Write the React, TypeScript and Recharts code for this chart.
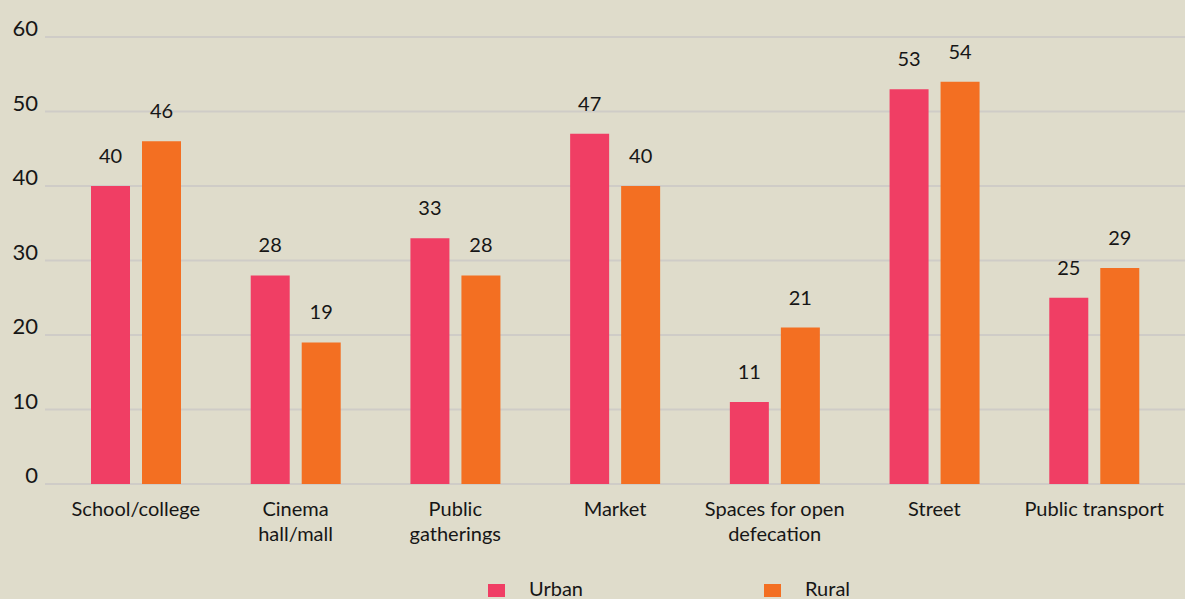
import { BarChart, Bar, XAxis, YAxis, CartesianGrid, Legend, LabelList } from "recharts";

const categories = [
  "School/college",
  "Cinema\nhall/mall",
  "Public\ngatherings",
  "Market",
  "Spaces for open\ndefecation",
  "Street",
  "Public transport",
];
const urban = [40, 28, 33, 47, 11, 53, 25];
const rural = [46, 19, 28, 40, 21, 54, 29];
const yTicks = [0, 10, 20, 30, 40, 50, 60];

const PINK = "#f03e64";
const ORANGE = "#f36f22";
const BG = "#dfdccb";
const INK = "#161616";
const FONT = "Lato, 'Open Sans', sans-serif";

const data = categories.map((name, i) => ({ name, urban: urban[i], rural: rural[i] }));

function XTick({ x, y, payload }: any) {
  const lines = String(payload.value).split("\n");
  return (
    <text x={x} y={y} textAnchor="middle" fill={INK} fontSize={20} fontFamily={FONT}>
      {lines.map((l, i) => (
        <tspan key={i} x={x} dy={i === 0 ? 30 : 25}>
          {l}
        </tspan>
      ))}
    </text>
  );
}

function YTick({ x, y, payload }: any) {
  return (
    <text x={x} y={y} dy={-1} textAnchor="end" fill={INK} fontSize={22} fontFamily={FONT}>
      {payload.value}
    </text>
  );
}

function LegendBox() {
  const items = [
    { label: "Urban", color: PINK, left: 488 },
    { label: "Rural", color: ORANGE, left: 764 },
  ];
  return (
    <div style={{ position: "relative", width: 1185, height: 24 }}>
      {items.map((it) => (
        <div key={it.label}>
          <span
            style={{ position: "absolute", left: it.left, top: 9, width: 17, height: 13, background: it.color }}
          />
          <span
            style={{
              position: "absolute",
              left: it.left + 41,
              top: 3,
              fontSize: 20,
              lineHeight: "20px",
              fontFamily: FONT,
              color: INK,
              whiteSpace: "nowrap",
            }}
          >
            {it.label}
          </span>
        </div>
      ))}
    </div>
  );
}

export default function App() {
  return (
    <div style={{ position: "absolute", left: 0, top: 0, width: 1185, height: 599, background: BG, overflow: "hidden" }}>
      <BarChart
        width={1185}
        height={599}
        data={data}
        margin={{ top: 37, right: 0, left: 0, bottom: 0 }}
        barSize={39}
        barGap={12}
      >
        <CartesianGrid vertical={false} stroke="#cfccc7" strokeWidth={2} />
        <XAxis
          dataKey="name"
          axisLine={false}
          tickLine={false}
          tickSize={0}
          interval={0}
          height={75}
          padding={{ left: 11, right: 11 }}
          tick={<XTick />}
        />
        <YAxis
          domain={[0, 60]}
          ticks={yTicks}
          axisLine={false}
          tickLine={false}
          tickSize={0}
          tickMargin={7}
          width={45}
          tick={<YTick />}
        />
        <Legend verticalAlign="bottom" height={40} wrapperStyle={{ left: 0, top: 575 }} content={() => <LegendBox />} />
        <Bar dataKey="urban" name="Urban" fill={PINK} isAnimationActive={false}>
          <LabelList dataKey="urban" position="top" offset={23} fill={INK} fontSize={20} fontFamily={FONT} />
        </Bar>
        <Bar dataKey="rural" name="Rural" fill={ORANGE} isAnimationActive={false}>
          <LabelList dataKey="rural" position="top" offset={23} fill={INK} fontSize={20} fontFamily={FONT} />
        </Bar>
      </BarChart>
    </div>
  );
}
